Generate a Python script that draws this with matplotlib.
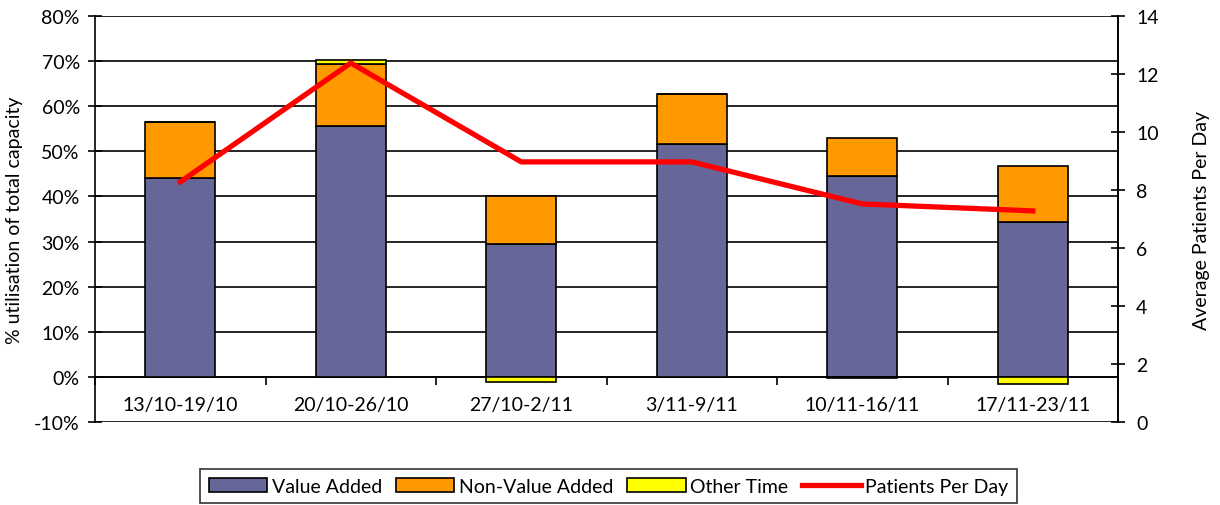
import matplotlib.pyplot as plt
import numpy as np

plt.rcParams['font.family'] = ['Lato', 'DejaVu Sans']

weeks = ['13/10-19/10', '20/10-26/10', '27/10-2/11', '3/11-9/11', '10/11-16/11', '17/11-23/11']
value_added = [44.1, 55.7, 29.5, 51.7, 44.6, 34.4]
non_value_added = [12.4, 13.7, 10.6, 11.0, 8.4, 12.4]
other_time = [0.0, 0.9, -1.2, 0.0, -0.3, -1.5]
patients_per_day = [8.28, 12.38, 8.97, 8.97, 7.52, 7.28]

x = np.arange(len(weeks))
va = np.array(value_added)
nva = np.array(non_value_added)
ot = np.array(other_time)
# positive "other time" sits on top of the stack, negative goes below zero
ot_bottom = np.where(ot >= 0, va + nva, 0)

fig = plt.figure(figsize=(12.2, 5.06), dpi=100)
ax = fig.add_axes([0.0779, 0.164, 0.8385, 0.8024])

w = 0.41
ax.bar(x, va, w, color='#666699', edgecolor='black', linewidth=1.2, label='Value Added', zorder=3)
ax.bar(x, nva, w, bottom=va, color='#FF9900', edgecolor='black', linewidth=1.2, label='Non-Value Added', zorder=3)
ax.bar(x, ot, w, bottom=ot_bottom, color='#FFFF00', edgecolor='black', linewidth=1.2, label='Other Time', zorder=3)

ax.set_xlim(-0.5, len(weeks) - 0.5)
ax.set_ylim(-10, 80)
ax.set_yticks(np.arange(-10, 81, 10))
ax.set_yticklabels(['{}%'.format(v) for v in range(-10, 81, 10)])
ax.yaxis.grid(True, color='black', linewidth=1.2, zorder=0)
ax.set_axisbelow(True)
ax.spines['top'].set_visible(False)
ax.spines['bottom'].set_position(('data', 0))
ax.spines['left'].set_linewidth(1.2)
ax.spines['right'].set_linewidth(1.2)
ax.spines['bottom'].set_linewidth(1.2)

ax.set_xticks(x)
ax.set_xticklabels(weeks)
ax.tick_params(axis='x', length=0, pad=14, labelsize=14)
ax.set_xticks(np.arange(-0.5, len(weeks), 1), minor=True)
ax.tick_params(axis='x', which='minor', direction='out', length=6, width=1.2)
ax.tick_params(axis='y', direction='inout', length=10, width=1.2, labelsize=14, pad=6)
ax.set_ylabel('% utilisation of total capacity', fontsize=14, labelpad=8)

ax2 = ax.twinx()
ax2.plot(x, patients_per_day, color='#FF0000', linewidth=3.8, label='Patients Per Day', zorder=4)
ax2.set_ylim(0, 14)
ax2.set_yticks(np.arange(0, 15, 2))
ax2.tick_params(axis='y', direction='inout', length=10, width=1.2, labelsize=14, pad=8)
ax2.set_ylabel('Average Patients Per Day', fontsize=14, labelpad=25)
for s in ax2.spines.values():
    s.set_visible(False)
ax2.spines['right'].set_visible(True)
ax2.spines['right'].set_linewidth(1.2)

h1, l1 = ax.get_legend_handles_labels()
h2, l2 = ax2.get_legend_handles_labels()
leg = fig.legend(h1 + h2, l1 + l2, loc='center', bbox_to_anchor=(0.499, 0.0375),
                 ncol=4, frameon=True, fancybox=False, edgecolor='black',
                 fontsize=14, handlelength=3.0, handletextpad=0.25, columnspacing=0.7,
                 borderpad=0.45)
leg.get_frame().set_linewidth(1.2)

fig.savefig('out.png', dpi=100)
